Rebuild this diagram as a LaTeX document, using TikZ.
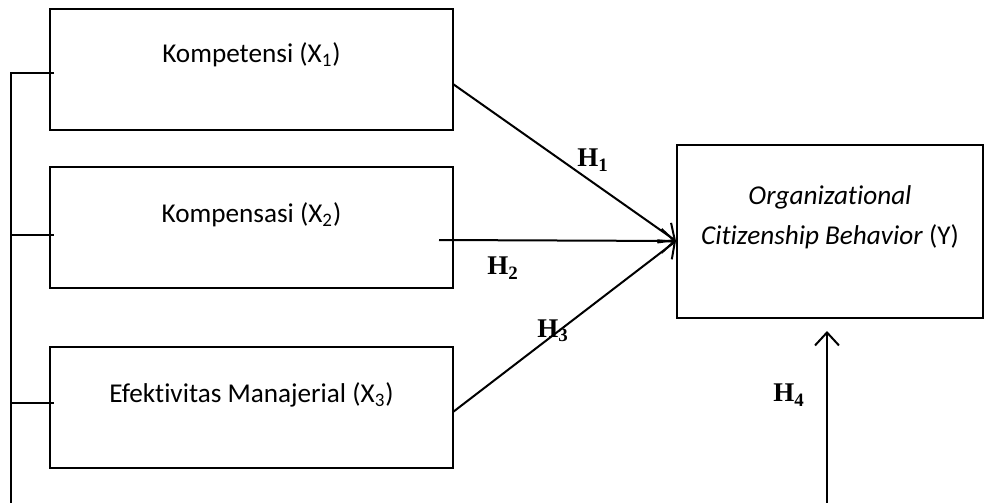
\documentclass[tikz,border=0pt]{standalone}
\usepackage{fontspec}
\setmainfont[Ligatures=NoCommon]{Carlito}
\newfontfamily\hfont{Liberation Serif}
\usetikzlibrary{arrows.meta,calc}
\begin{document}
\begin{tikzpicture}[x=0.5pt,y=-0.5pt,
  varbox/.style={draw,line width=1.4pt,minimum width=201.5pt,minimum height=60.5pt,inner sep=0pt},
  boxtext/.style={font=\fontsize{13.6}{16}\selectfont},
  link/.style={line width=1pt},
  arr/.style={line width=1pt,-{Straight Barb[length=6.5pt,width=12pt,line width=1pt]}},
  hyp/.style={font=\hfont\bfseries\fontsize{13.5}{15}\selectfont,inner sep=0pt}]
\useasboundingbox (0,0) rectangle (987,503);

% independent variables
\node[varbox,label={[boxtext,yshift=7.5pt]center:Kompetensi (X\textsubscript{1})}] (x1) at (251.5,69.5) {};
\node[varbox,label={[boxtext,yshift=6.5pt]center:Kompensasi (X\textsubscript{2})}] (x2) at (251.5,227.5) {};
\node[varbox,label={[boxtext,yshift=6.5pt]center:Efektivitas Manajerial (X\textsubscript{3})}] (x3) at (251.5,407.5) {};

% dependent variable
\node[draw,line width=1.4pt,minimum width=153pt,minimum height=86.5pt,inner sep=0pt,
      label={[boxtext,align=center,yshift=7pt]center:\textit{Organizational}\\[4pt]\textit{Citizenship Behavior} (Y)}] (y) at (830,231.5) {};

% anchor points of the connectors
\coordinate (s1) at (453,84);
\coordinate (s2) at (439,240);
\coordinate (s3) at (453,412);
\coordinate (tip) at (676,241);
\coordinate (h4s) at (827,503);
\coordinate (h4e) at (827,331);
\coordinate (bt) at (11,73);
\coordinate (bb) at (11,503);
\coordinate (b1) at (54,73);
\coordinate (b2) at (54,235);
\coordinate (b3) at (54,403);
\coordinate (m2) at (11,235);
\coordinate (m3) at (11,403);

% left bus joining the three variables
\draw[link] (b1) -- (bt) -- (bb);
\draw[link] (m2) -- (b2);
\draw[link] (m3) -- (b3);

% hypothesis arrows
\draw[arr] (s1) -- (tip);
\draw[arr] (s2) -- (tip);
\draw[arr] (s3) -- (tip);
\draw[arr] (h4s) -- (h4e);

% hypothesis labels
\node[hyp] (l1) at (593,160) {H\textsubscript{1}};
\node[hyp] (l2) at (503,268) {H\textsubscript{2}};
\node[hyp] (l3) at (553,331) {H\textsubscript{3}};
\node[hyp] (l4) at (789,395) {H\textsubscript{4}};
\end{tikzpicture}
\end{document}
